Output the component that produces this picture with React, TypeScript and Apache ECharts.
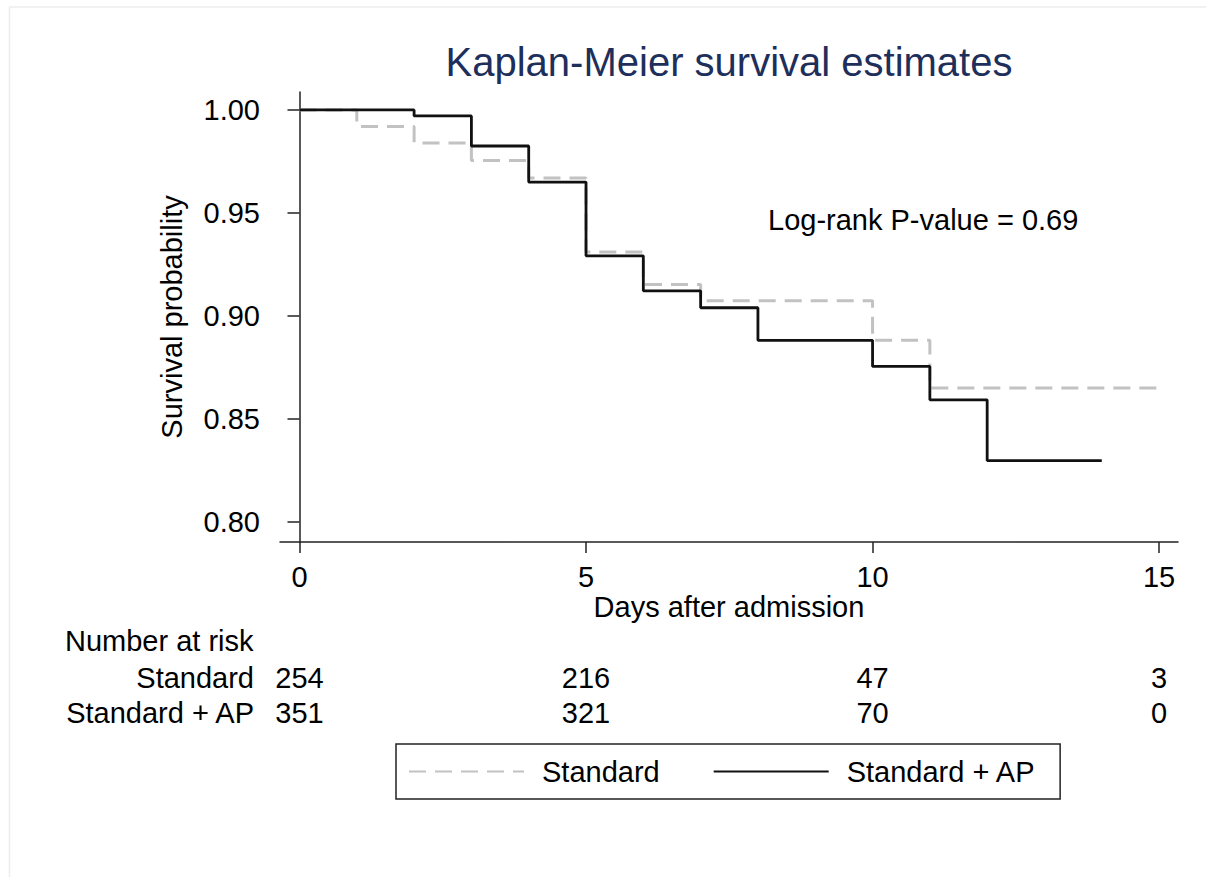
import React, { useEffect, useRef } from "react";
import * as echarts from "echarts";

// Kaplan-Meier step data (time in days, survival probability)
const standardTimes = [0, 1, 2, 3, 4, 5, 6, 7, 10, 11, 15];
const standardSurv = [1.0, 0.992, 0.984, 0.9755, 0.967, 0.931, 0.9153, 0.9074, 0.8882, 0.865, 0.865];

const apTimes = [0, 2, 3, 4, 5, 6, 7, 8, 10, 11, 12, 14];
const apSurv = [1.0, 0.9971, 0.9825, 0.965, 0.9292, 0.9122, 0.904, 0.8882, 0.8755, 0.8593, 0.8298, 0.8298];

// Number at risk table
const riskDays = [0, 5, 10, 15];
const riskStandard = [254, 216, 47, 3];
const riskAP = [351, 321, 70, 0];

const xTicks = [0, 5, 10, 15];
const yTicks = [0.8, 0.85, 0.9, 0.95, 1.0];

const groupNames = ["Standard", "Standard + AP"];

const FONT = "'Liberation Sans', Arial, Helvetica, sans-serif";
const FS = 29;

export default function App() {
  const ref = useRef<HTMLDivElement>(null);

  useEffect(() => {
    if (!ref.current) return;
    const chart = echarts.init(ref.current, undefined, { renderer: "svg" });

    const stdData = standardTimes.map((t, i) => [t, standardSurv[i]]);
    const apData = apTimes.map((t, i) => [t, apSurv[i]]);
    const riskData = [
      ...riskDays.map((d, i) => [d, groupNames[0], riskStandard[i]]),
      ...riskDays.map((d, i) => [d, groupNames[1], riskAP[i]]),
    ];

    const axisColor = "#222";

    chart.setOption({
      animation: false,
      backgroundColor: "#fff",
      textStyle: { fontFamily: FONT },
      grid: [
        { left: 280, top: 92, width: 898, height: 450 },
        { left: 280, top: 660, width: 898, height: 70 },
      ],
      xAxis: [
        {
          type: "value",
          gridIndex: 0,
          min: -0.34,
          max: 15.33,
          axisLine: { show: true, lineStyle: { color: axisColor, width: 1.5 } },
          axisTick: { show: true, customValues: xTicks, length: 11, lineStyle: { color: axisColor, width: 1.5 } },
          axisLabel: {
            customValues: xTicks,
            fontSize: FS,
            fontFamily: FONT,
            color: "#000",
            margin: 20,
          },
          splitLine: { show: false },
        },
        {
          type: "value",
          gridIndex: 1,
          min: -0.34,
          max: 15.33,
          show: false,
        },
      ],
      yAxis: [
        {
          type: "value",
          gridIndex: 0,
          min: 0.7903,
          max: 1.0087,
          axisLine: { show: true, lineStyle: { color: axisColor, width: 1.5 } },
          axisTick: { show: true, customValues: yTicks, length: 12, lineStyle: { color: axisColor, width: 1.5 } },
          axisLabel: {
            customValues: yTicks,
            formatter: (v: number) => v.toFixed(2),
            fontSize: FS,
            fontFamily: FONT,
            color: "#000",
            margin: 20,
          },
          splitLine: { show: false },
        },
        {
          type: "category",
          gridIndex: 1,
          data: groupNames,
          inverse: true,
          axisLine: { show: false },
          axisTick: { show: false },
          splitLine: { show: false },
          axisLabel: { interval: 0, fontSize: FS, fontFamily: FONT, color: "#000", margin: 26 },
        },
      ],
      legend: {
        data: groupNames,
        left: 396,
        top: 744,
        orient: "horizontal",
        padding: [13, 24, 13, 12],
        itemGap: 53,
        itemWidth: 115,
        itemHeight: 16,
        borderColor: "#222",
        borderWidth: 1.5,
        backgroundColor: "#fff",
        itemStyle: { color: "rgba(0,0,0,0)", borderColor: "rgba(0,0,0,0)", borderWidth: 0 },
        textStyle: { fontSize: FS, fontFamily: FONT, color: "#000", padding: [0, 0, 0, 13] },
      },
      series: [
        {
          name: groupNames[0],
          type: "line",
          step: "end",
          data: stdData,
          symbol: "none",
          lineStyle: { color: "#c2c2c2", width: 3, type: [17, 9] },
          itemStyle: { color: "#c2c2c2" },
          z: 2,
        },
        {
          name: groupNames[1],
          type: "line",
          step: "end",
          data: apData,
          symbol: "none",
          lineStyle: { color: "#111", width: 2.8 },
          itemStyle: { color: "#111" },
          z: 3,
        },
        {
          name: "risk",
          type: "scatter",
          xAxisIndex: 1,
          yAxisIndex: 1,
          data: riskData,
          symbol: "circle",
          symbolSize: 1,
          itemStyle: { color: "rgba(0,0,0,0)" },
          label: {
            show: true,
            position: "inside",
            formatter: (p: any) => String(p.value[2]),
            fontSize: FS,
            fontFamily: FONT,
            color: "#000",
            opacity: 1,
            textBorderWidth: 0,
          },
          silent: true,
        },
      ],
      graphic: [
        { type: "line", shape: { x1: 9.5, y1: 7, x2: 9.5, y2: 877 }, style: { stroke: "#ececec", lineWidth: 1.5 } },
        { type: "line", shape: { x1: 9.5, y1: 7, x2: 1206, y2: 7 }, style: { stroke: "#ececec", lineWidth: 1.5 } },
        {
          type: "text",
          x: 729,
          y: 62,
          style: {
            text: "Kaplan-Meier survival estimates",
            fontSize: 40,
            fontFamily: FONT,
            fill: "#1e2f5c",
            textAlign: "center",
            textVerticalAlign: "middle",
          },
        },
        {
          type: "text",
          x: 172,
          y: 317,
          rotation: Math.PI / 2,
          style: {
            text: "Survival probability",
            fontSize: FS,
            fontFamily: FONT,
            fill: "#000",
            textAlign: "center",
            textVerticalAlign: "middle",
          },
        },
        {
          type: "text",
          x: 729,
          y: 607,
          style: {
            text: "Days after admission",
            fontSize: FS,
            fontFamily: FONT,
            fill: "#000",
            textAlign: "center",
            textVerticalAlign: "middle",
          },
        },
        {
          type: "text",
          x: 768,
          y: 220,
          style: {
            text: "Log-rank P-value = 0.69",
            fontSize: FS,
            fontFamily: FONT,
            fill: "#000",
            textAlign: "left",
            textVerticalAlign: "middle",
          },
        },
        {
          type: "text",
          x: 65,
          y: 641,
          style: {
            text: "Number at risk",
            fontSize: FS,
            fontFamily: FONT,
            fill: "#000",
            textAlign: "left",
            textVerticalAlign: "middle",
          },
        },
      ],
    });

    return () => chart.dispose();
  }, []);

  return (
    <div
      ref={ref}
      style={{ position: "absolute", left: 0, top: 0, width: 1206, height: 877 }}
    />
  );
}
